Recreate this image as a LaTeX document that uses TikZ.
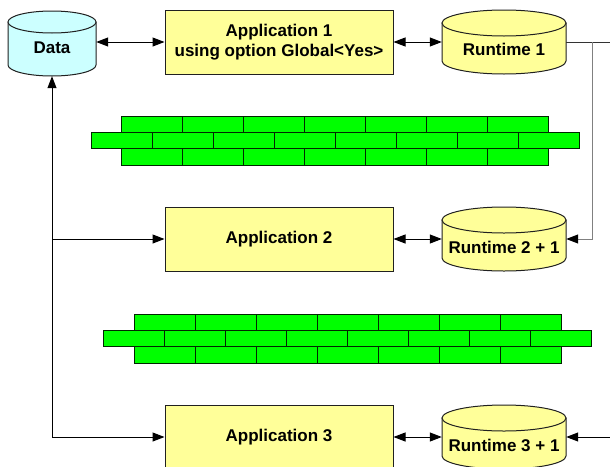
\documentclass[tikz,border=0pt]{standalone}
\usepackage{fontspec}
\setmainfont{Liberation Sans}
\usetikzlibrary{arrows.meta,calc}

\definecolor{appfill}{HTML}{FFFF99}
\definecolor{datafill}{HTML}{CCFFFF}
\definecolor{brickfill}{HTML}{00FF00}
\definecolor{edge}{HTML}{202020}
\definecolor{linkgray}{HTML}{808080}

% cylinder: name, centre x, top y, bottom y, x radius, y radius, fill
\newcommand\drumat[7]{%
  \path[fill=#7,draw=edge,line width=1pt]
    (#2-#5,#3+#6) -- (#2-#5,#4-#6)
    arc[start angle=180,end angle=0,x radius=#5,y radius=#6]
    -- (#2+#5,#3+#6) -- cycle;
  \path[fill=#7,draw=edge,line width=1pt]
    (#2,#3+#6) ellipse[x radius=#5,y radius=#6];
  \node[inner sep=0pt,minimum width=2*#5pt,minimum height=(#4-#3)*1pt]
    (#1) at (#2,{(#3+#4)/2}) {};
}

% row of bricks: first x, top y, height, count
\newcommand\brickrow[4]{%
  \foreach \k in {1,...,#4}{
    \path[brick] ({#1+(\k-1)*61.1},#2) rectangle ++(61.1,#3);
  }
}

\begin{document}
\begin{tikzpicture}[x=1pt,y=-1pt,
  every node/.style={font=\fontsize{17}{20}\selectfont\bfseries,text=black},
  appbox/.style={draw=edge,fill=appfill,line width=1pt,minimum width=228pt,
    minimum height=64pt,inner sep=0pt,align=center},
  drumtext/.style={inner sep=0pt},
  brick/.style={fill=brickfill,draw=black!85!green,line width=1pt},
  link/.style={draw=black,line width=1pt},
  dbl/.style={link,{Triangle[length=12pt,width=9pt]}-{Triangle[length=12pt,width=9pt]}},
  one/.style={link,-{Triangle[length=12pt,width=9pt,color=black,fill=black]}}]

\useasboundingbox (0,0) rectangle (610,466);

% data store and runtimes
\drumat{data}{52}{11}{76}{44}{11}{datafill}
\node[drumtext] (datat) at (52,48) {Data};

\drumat{r1}{504}{10}{74}{62}{13}{appfill}
\node[drumtext] (r1t) at (504,49) {Runtime 1};

\drumat{r2}{504}{207}{271}{62}{13}{appfill}
\node[drumtext] (r2t) at (504,247) {Runtime 2 + 1};

\drumat{r3}{504}{405}{469}{62}{13}{appfill}
\node[drumtext] (r3t) at (504,445) {Runtime 3 + 1};

% applications
\node[appbox] (a1) at (279,42) {Application 1\\using option Global<Yes>};
\node[appbox] (a2) at (279,239) {Application 2};
\node[appbox] (a3) at (279,437) {Application 3};

% brick walls
\brickrow{121}{116}{16}{7}
\brickrow{91}{132}{16}{8}
\brickrow{121}{148}{17}{7}

\brickrow{134}{314}{16}{7}
\brickrow{103}{330}{16}{8}
\brickrow{134}{346}{17}{7}

% connector end points
\coordinate (out1) at (610,42);
\coordinate (j1) at (592,42);
\coordinate (in3) at (610,437);
\coordinate (dbot) at (52,437);

% connectors
\draw[dbl] (data.east |- a1.west) -- (a1.west);
\draw[dbl] (a1.east) -- (r1.west);
\draw[link,draw=black!80] (r1.east) -- (out1);
\draw[one,draw=linkgray] (j1) |- (r2.east);
\draw[dbl] (a2.east) -- (r2.west);
\draw[dbl] (a3.east) -- (r3.west);
\draw[one] (in3) -- (r3.east);

\draw[one] (dbot) -- (data.south);
\draw[one] (data.south |- a2.west) -- (a2.west);
\draw[one] (dbot) -- (a3.west);

\end{tikzpicture}
\end{document}
